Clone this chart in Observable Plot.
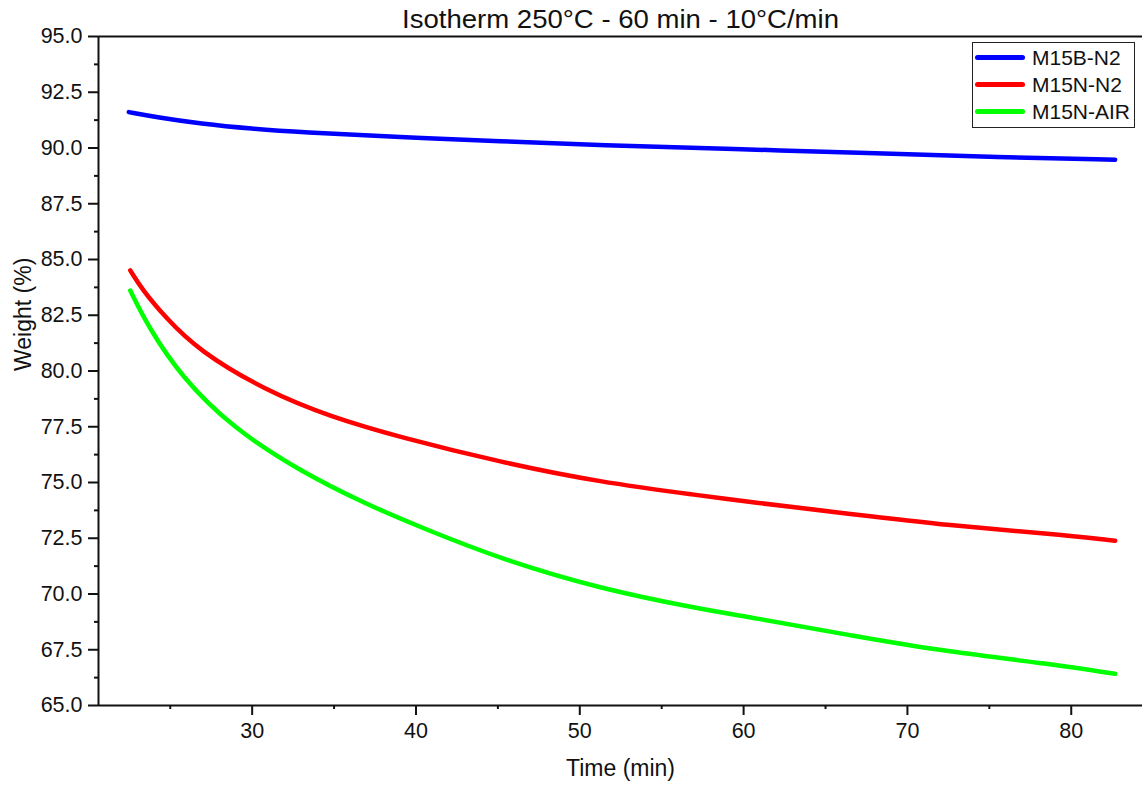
<!DOCTYPE html>
<html>
<head>
<meta charset="utf-8">
<script src="https://cdn.jsdelivr.net/npm/d3@7"></script>
<script src="https://cdn.jsdelivr.net/npm/@observablehq/plot@0.6"></script>
<style>
  html, body { margin: 0; padding: 0; background: #fff; }
  #wrap { position: relative; width: 1142px; height: 785px; font-family: "Liberation Sans", Arial, sans-serif; }
  #legend { position: absolute; left: 972px; top: 42px; width: 161px; border: 1.5px solid #222; background: #fff; padding: 1px 0 2px 0; }
  .row { height: 27px; display: flex; align-items: center; }
  .swatch { width: 50px; height: 5px; border-radius: 2.5px; margin-left: 2px; margin-right: 7px; }
  .lab { font-size: 21px; color: #111; line-height: 27px; }
</style>
</head>
<body>
<div id="wrap"></div>
<script>
// ---- data ----
const seriesNames = ["M15B-N2", "M15N-N2", "M15N-AIR"];
const seriesColors = ["#0000ff", "#ff0000", "#00ff00"];

const m15bN2 = [
  [22.47, 91.61], [24.18, 91.38], [26.85, 91.09], [30.0, 90.86], [32.95, 90.71],
  [39.05, 90.48], [45.15, 90.31], [51.26, 90.11], [59.4, 89.96], [67.57, 89.77],
  [75.68, 89.59], [82.68, 89.47]
];
const m15nN2 = [
  [22.56, 84.51], [23.26, 83.68], [24.69, 82.41], [26.72, 80.92], [30.79, 79.13],
  [34.84, 77.93], [39.05, 77.03], [45.15, 75.91], [51.25, 75.01], [57.35, 74.42],
  [60.42, 74.12], [66.52, 73.59], [72.62, 73.07], [78.72, 72.70], [82.68, 72.39]
];
const m15nAir = [
  [22.56, 83.61], [23.67, 81.96], [25.70, 79.72], [28.76, 77.48], [32.83, 75.54],
  [36.9, 74.04], [40.76, 72.85], [45.15, 71.58], [51.25, 70.23], [57.35, 69.33],
  [60.42, 68.96], [66.52, 68.14], [72.62, 67.39], [78.72, 66.87], [82.68, 66.42]
];

const xDomain = [20.62, 84.35];
const yDomain = [65, 95];
const yMajor = [65, 67.5, 70, 72.5, 75, 77.5, 80, 82.5, 85, 87.5, 90, 92.5, 95];
const yMinor = [66.25, 68.75, 71.25, 73.75, 76.25, 78.75, 81.25, 83.75, 86.25, 88.75, 91.25, 93.75];
const xMajor = [30, 40, 50, 60, 70, 80];
const xMinor = [25, 35, 45, 55, 65, 75];

const titleText = "Isotherm 250°C - 60 min - 10°C/min";
const xLabel = "Time (min)";
const yLabel = "Weight (%)";

// ---- build table ----
const allSeries = [m15bN2, m15nN2, m15nAir];
const rows = allSeries.flatMap((s, i) => s.map(([t, w]) => ({ series: seriesNames[i], t, w })));

const chart = Plot.plot({
  width: 1142,
  height: 785,
  marginLeft: 98,
  marginTop: 36,
  marginRight: 0,
  marginBottom: 80,
  style: { fontFamily: "'Liberation Sans', Arial, sans-serif", fontSize: "21px", color: "#111", background: "#fff", overflow: "visible" },
  x: { domain: xDomain },
  y: { domain: yDomain },
  color: { domain: seriesNames, range: seriesColors },
  marks: [
    Plot.ruleY([yDomain[1]], { stroke: "#111", strokeWidth: 2 }),
    Plot.ruleY([yDomain[0]], { stroke: "#111", strokeWidth: 2 }),
    Plot.ruleX([xDomain[0]], { stroke: "#111", strokeWidth: 2 }),
    Plot.axisY({ ticks: yMajor, tickSize: 10, tickPadding: 6, strokeWidth: 2, tickFormat: d => d.toFixed(1), label: null, fontSize: 21.5 }),
    Plot.axisY({ ticks: yMinor, tickSize: 4, strokeWidth: 2, tickFormat: () => "", label: null }),
    Plot.axisX({ ticks: xMajor, tickSize: 10, tickPadding: 7, strokeWidth: 2, tickFormat: d => String(d), label: null, fontSize: 21.5 }),
    Plot.axisX({ ticks: xMinor, tickSize: 4, strokeWidth: 2, tickFormat: () => "", label: null }),
    Plot.line(rows, { x: "t", y: "w", z: "series", stroke: "series", strokeWidth: 4.5, curve: "basis", strokeLinecap: "round" }),
    Plot.text([titleText], { frameAnchor: "top", dy: -17, fontSize: 26, fill: "#111", lineAnchor: "middle" }),
    Plot.text([xLabel], { frameAnchor: "bottom", dy: 63, fontSize: 23, fill: "#111", lineAnchor: "middle" }),
    Plot.text([yLabel], { frameAnchor: "left", dx: -75, rotate: -90, fontSize: 23, fill: "#111", lineAnchor: "middle" })
  ]
});

const wrap = document.getElementById("wrap");
wrap.appendChild(chart);

// stretch title to measured width
const titleNode = Array.from(chart.querySelectorAll("text")).find(t => t.textContent === titleText);
if (titleNode) { titleNode.setAttribute("textLength", "437"); titleNode.setAttribute("lengthAdjust", "spacingAndGlyphs"); }

// legend
const legend = document.createElement("div");
legend.id = "legend";
seriesNames.forEach((name, i) => {
  const r = document.createElement("div");
  r.className = "row";
  const sw = document.createElement("div");
  sw.className = "swatch";
  sw.style.background = seriesColors[i];
  const lb = document.createElement("span");
  lb.className = "lab";
  lb.textContent = name;
  r.appendChild(sw); r.appendChild(lb);
  legend.appendChild(r);
});
wrap.appendChild(legend);
</script>
</body>
</html>
